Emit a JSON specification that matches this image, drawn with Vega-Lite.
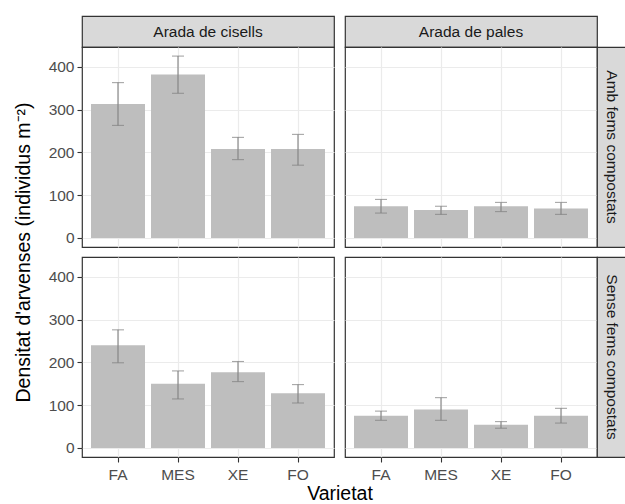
{
  "$schema": "https://vega.github.io/schema/vega-lite/v6.json",
  "padding": {"left": 12, "top": 15, "right": 0, "bottom": 0},
  "background": "white",
  "datasets": {
    "d": [
      {"arada": "Arada de cisells", "fems": "Amb fems compostats", "var": "FA", "mean": 313, "lo": 263, "hi": 363},
      {"arada": "Arada de cisells", "fems": "Amb fems compostats", "var": "MES", "mean": 382, "lo": 338, "hi": 425},
      {"arada": "Arada de cisells", "fems": "Amb fems compostats", "var": "XE", "mean": 208, "lo": 183, "hi": 235},
      {"arada": "Arada de cisells", "fems": "Amb fems compostats", "var": "FO", "mean": 208, "lo": 170, "hi": 242},
      {"arada": "Arada de pales", "fems": "Amb fems compostats", "var": "FA", "mean": 74, "lo": 58, "hi": 90},
      {"arada": "Arada de pales", "fems": "Amb fems compostats", "var": "MES", "mean": 65.5, "lo": 55, "hi": 74},
      {"arada": "Arada de pales", "fems": "Amb fems compostats", "var": "XE", "mean": 74, "lo": 61.5, "hi": 83},
      {"arada": "Arada de pales", "fems": "Amb fems compostats", "var": "FO", "mean": 68.5, "lo": 55, "hi": 83},
      {"arada": "Arada de cisells", "fems": "Sense fems compostats", "var": "FA", "mean": 240, "lo": 199, "hi": 276},
      {"arada": "Arada de cisells", "fems": "Sense fems compostats", "var": "MES", "mean": 150, "lo": 114.5, "hi": 180},
      {"arada": "Arada de cisells", "fems": "Sense fems compostats", "var": "XE", "mean": 177, "lo": 155, "hi": 202},
      {"arada": "Arada de cisells", "fems": "Sense fems compostats", "var": "FO", "mean": 128, "lo": 105, "hi": 148},
      {"arada": "Arada de pales", "fems": "Sense fems compostats", "var": "FA", "mean": 75, "lo": 64.5, "hi": 86},
      {"arada": "Arada de pales", "fems": "Sense fems compostats", "var": "MES", "mean": 90, "lo": 64.5, "hi": 117.5},
      {"arada": "Arada de pales", "fems": "Sense fems compostats", "var": "XE", "mean": 54, "lo": 46, "hi": 61.5},
      {"arada": "Arada de pales", "fems": "Sense fems compostats", "var": "FO", "mean": 75, "lo": 58, "hi": 92.5}
    ]
  },
  "config": {
    "font": "Liberation Sans",
    "view": {"stroke": "#333333", "strokeWidth": 1.2},
    "axis": {
      "labelFont": "Liberation Sans", "labelFontSize": 15.5, "labelColor": "#4D4D4D",
      "titleFont": "Liberation Sans", "titleFontSize": 19.5, "titleFontWeight": "normal", "titleColor": "#000000",
      "tickColor": "#333333", "tickSize": 5, "tickWidth": 1.1, "gridColor": "#EBEBEB", "domain": false,
      "labelPadding": 3, "labelOverlap": false, "labelFlush": false, "labelBound": false
    },
    "axisX": {"grid": true, "gridWidth": 1.2, "bandPosition": 0.5, "labelAngle": 0, "labelPadding": 5},
    "text": {"font": "Liberation Sans"}
  },
  "columns": 4,
  "align": "each",
  "bounds": "flush",
  "spacing": 0,
  "concat": [
    {
      "width": 252, "height": 31,
      "data": {"values": [{"s": "Arada de cisells"}]},
      "mark": {"type": "text", "fontSize": 15.5, "color": "#1A1A1A"},
      "encoding": {"text": {"field": "s"}},
      "view": {"fill": "#D9D9D9", "stroke": "#333333", "strokeWidth": 1.2}
    },
    {"width": 11, "height": 31, "data": {"values": []}, "mark": {"type": "text"}, "encoding": {}, "view": {"stroke": null}},
    {
      "width": 252, "height": 31,
      "data": {"values": [{"s": "Arada de pales"}]},
      "mark": {"type": "text", "fontSize": 15.5, "color": "#1A1A1A"},
      "encoding": {"text": {"field": "s"}},
      "view": {"fill": "#D9D9D9", "stroke": "#333333", "strokeWidth": 1.2}
    },
    {"width": 29, "height": 31, "data": {"values": []}, "mark": {"type": "text"}, "encoding": {}, "view": {"stroke": null}},
    {
      "width": 252, "height": 200,
      "data": {"name": "d"},
      "transform": [{"filter": "datum.arada === 'Arada de cisells' && datum.fems === 'Amb fems compostats'"}],
      "encoding": {
        "x": {"field": "var", "type": "nominal", "sort": ["FA", "MES", "XE", "FO"],
          "scale": {"paddingInner": 0.1, "paddingOuter": 0.15},
          "axis": {"labels": false, "ticks": false, "title": null}}
      },
      "layer": [
        {"mark": {"type": "bar", "color": "#BEBEBE"},
         "encoding": {"y": {"field": "mean", "type": "quantitative", "title": "Densitat d'arvenses (individus m⁻²)",
           "scale": {"domain": [-21.25, 446.25], "nice": false, "zero": false},
           "axis": {"values": [0, 50, 100, 150, 200, 250, 300, 350, 400],
             "labelExpr": "datum.value % 100 === 0 ? datum.label : ''",
             "tickOpacity": {"condition": {"test": "datum.value % 100 !== 0", "value": 0}, "value": 1},
             "gridWidth": {"condition": {"test": "datum.value % 100 !== 0", "value": 0.6}, "value": 1.2},
             "titleY": 205, "titlePadding": 15}}}},
        {"mark": {"type": "rule", "color": "#808080", "strokeWidth": 1.1},
         "encoding": {"y": {"field": "lo", "type": "quantitative", "title": "Densitat d'arvenses (individus m⁻²)"}, "y2": {"field": "hi"}}},
        {"mark": {"type": "tick", "color": "#808080", "size": 12, "thickness": 1.1},
         "encoding": {"y": {"field": "lo", "type": "quantitative", "title": "Densitat d'arvenses (individus m⁻²)"}}},
        {"mark": {"type": "tick", "color": "#808080", "size": 12, "thickness": 1.1},
         "encoding": {"y": {"field": "hi", "type": "quantitative", "title": "Densitat d'arvenses (individus m⁻²)"}}}
      ]
    },
    {"width": 11, "height": 200, "data": {"values": []}, "mark": {"type": "text"}, "encoding": {}, "view": {"stroke": null}},
    {
      "width": 252, "height": 200,
      "data": {"name": "d"},
      "transform": [{"filter": "datum.arada === 'Arada de pales' && datum.fems === 'Amb fems compostats'"}],
      "encoding": {
        "x": {"field": "var", "type": "nominal", "sort": ["FA", "MES", "XE", "FO"],
          "scale": {"paddingInner": 0.1, "paddingOuter": 0.15},
          "axis": {"labels": false, "ticks": false, "title": null}}
      },
      "layer": [
        {"mark": {"type": "bar", "color": "#BEBEBE"},
         "encoding": {"y": {"field": "mean", "type": "quantitative", "title": null,
           "scale": {"domain": [-21.25, 446.25], "nice": false, "zero": false},
           "axis": {"values": [0, 50, 100, 150, 200, 250, 300, 350, 400], "labels": false, "ticks": false,
             "gridWidth": {"condition": {"test": "datum.value % 100 !== 0", "value": 0.6}, "value": 1.2}}}}},
        {"mark": {"type": "rule", "color": "#808080", "strokeWidth": 1.1},
         "encoding": {"y": {"field": "lo", "type": "quantitative", "title": null}, "y2": {"field": "hi"}}},
        {"mark": {"type": "tick", "color": "#808080", "size": 12, "thickness": 1.1},
         "encoding": {"y": {"field": "lo", "type": "quantitative", "title": null}}},
        {"mark": {"type": "tick", "color": "#808080", "size": 12, "thickness": 1.1},
         "encoding": {"y": {"field": "hi", "type": "quantitative", "title": null}}}
      ]
    },
    {
      "width": 29, "height": 200,
      "data": {"values": [{"s": "Amb fems compostats"}]},
      "mark": {"type": "text", "fontSize": 15.5, "color": "#1A1A1A", "angle": 90},
      "encoding": {"text": {"field": "s"}},
      "view": {"fill": "#D9D9D9", "stroke": "#333333", "strokeWidth": 1.2}
    },
    {"width": 252, "height": 10, "data": {"values": []}, "mark": {"type": "text"}, "encoding": {}, "view": {"stroke": null}},
    {"width": 11, "height": 10, "data": {"values": []}, "mark": {"type": "text"}, "encoding": {}, "view": {"stroke": null}},
    {"width": 252, "height": 10, "data": {"values": []}, "mark": {"type": "text"}, "encoding": {}, "view": {"stroke": null}},
    {"width": 29, "height": 10, "data": {"values": []}, "mark": {"type": "text"}, "encoding": {}, "view": {"stroke": null}},
    {
      "width": 252, "height": 200,
      "data": {"name": "d"},
      "transform": [{"filter": "datum.arada === 'Arada de cisells' && datum.fems === 'Sense fems compostats'"}],
      "encoding": {
        "x": {"field": "var", "type": "nominal", "sort": ["FA", "MES", "XE", "FO"],
          "scale": {"paddingInner": 0.1, "paddingOuter": 0.15},
          "axis": {"title": "Varietat", "titleX": 257.5, "titlePadding": 2}}
      },
      "layer": [
        {"mark": {"type": "bar", "color": "#BEBEBE"},
         "encoding": {"y": {"field": "mean", "type": "quantitative", "title": null,
           "scale": {"domain": [-21.25, 446.25], "nice": false, "zero": false},
           "axis": {"values": [0, 50, 100, 150, 200, 250, 300, 350, 400],
             "labelExpr": "datum.value % 100 === 0 ? datum.label : ''",
             "tickOpacity": {"condition": {"test": "datum.value % 100 !== 0", "value": 0}, "value": 1},
             "gridWidth": {"condition": {"test": "datum.value % 100 !== 0", "value": 0.6}, "value": 1.2}}}}},
        {"mark": {"type": "rule", "color": "#808080", "strokeWidth": 1.1},
         "encoding": {"y": {"field": "lo", "type": "quantitative", "title": null}, "y2": {"field": "hi"}}},
        {"mark": {"type": "tick", "color": "#808080", "size": 12, "thickness": 1.1},
         "encoding": {"y": {"field": "lo", "type": "quantitative", "title": null}}},
        {"mark": {"type": "tick", "color": "#808080", "size": 12, "thickness": 1.1},
         "encoding": {"y": {"field": "hi", "type": "quantitative", "title": null}}}
      ]
    },
    {"width": 11, "height": 200, "data": {"values": []}, "mark": {"type": "text"}, "encoding": {}, "view": {"stroke": null}},
    {
      "width": 252, "height": 200,
      "data": {"name": "d"},
      "transform": [{"filter": "datum.arada === 'Arada de pales' && datum.fems === 'Sense fems compostats'"}],
      "encoding": {
        "x": {"field": "var", "type": "nominal", "sort": ["FA", "MES", "XE", "FO"],
          "scale": {"paddingInner": 0.1, "paddingOuter": 0.15},
          "axis": {"title": null}}
      },
      "layer": [
        {"mark": {"type": "bar", "color": "#BEBEBE"},
         "encoding": {"y": {"field": "mean", "type": "quantitative", "title": null,
           "scale": {"domain": [-21.25, 446.25], "nice": false, "zero": false},
           "axis": {"values": [0, 50, 100, 150, 200, 250, 300, 350, 400], "labels": false, "ticks": false,
             "gridWidth": {"condition": {"test": "datum.value % 100 !== 0", "value": 0.6}, "value": 1.2}}}}},
        {"mark": {"type": "rule", "color": "#808080", "strokeWidth": 1.1},
         "encoding": {"y": {"field": "lo", "type": "quantitative", "title": null}, "y2": {"field": "hi"}}},
        {"mark": {"type": "tick", "color": "#808080", "size": 12, "thickness": 1.1},
         "encoding": {"y": {"field": "lo", "type": "quantitative", "title": null}}},
        {"mark": {"type": "tick", "color": "#808080", "size": 12, "thickness": 1.1},
         "encoding": {"y": {"field": "hi", "type": "quantitative", "title": null}}}
      ]
    },
    {
      "width": 29, "height": 200,
      "data": {"values": [{"s": "Sense fems compostats"}]},
      "mark": {"type": "text", "fontSize": 15.5, "color": "#1A1A1A", "angle": 90},
      "encoding": {"text": {"field": "s"}},
      "view": {"fill": "#D9D9D9", "stroke": "#333333", "strokeWidth": 1.2}
    }
  ]
}
